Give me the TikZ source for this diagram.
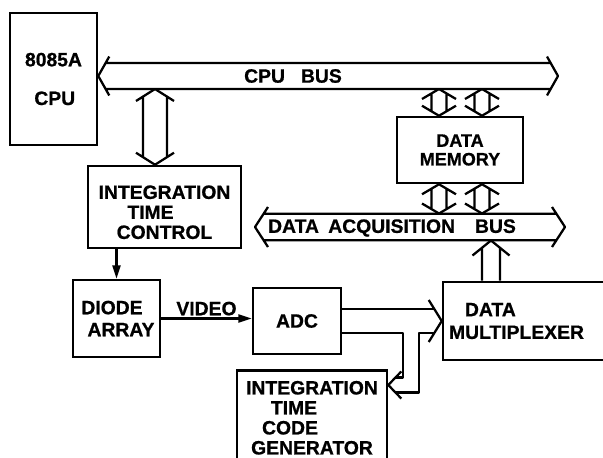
\documentclass[tikz,border=0pt]{standalone}
\usepackage{fontspec}
\setmainfont{Liberation Sans}[BoldFeatures={FakeBold=0.8}]
\usepackage{tikz}
\usetikzlibrary{arrows.meta, positioning, calc}

\begin{document}
\begin{tikzpicture}[
    x=0.75pt, y=-0.75pt,
    every node/.style={font=\fontsize{14.5}{15}\selectfont\bfseries},
    block/.style={rectangle, draw, line width=1.9pt, align=center, inner sep=0pt},
    sig/.style={-{Triangle[length=10pt,width=6pt]}, line width=1.6pt},
    wire/.style={line width=1.7pt, line join=round},
    % hollow bus arrows: shaft half width / head half width / head length (pt)
    dhbus/.style args={#1/#2/#3}{wire, to path={
      let \p1=(\tikztostart), \p2=(\tikztotarget), \n1={#3*#1/#2} in
      (\x1+#3pt,\y1+#2pt) -- (\x1,\y1) -- (\x1+#3pt,\y1-#2pt)
      (\x1+\n1*1pt,\y1+#1pt) -- (\x2-\n1*1pt,\y1+#1pt)
      (\x1+\n1*1pt,\y1-#1pt) -- (\x2-\n1*1pt,\y1-#1pt)
      (\x2-#3pt,\y1+#2pt) -- (\x2,\y1) -- (\x2-#3pt,\y1-#2pt)
    }},
    dvbus/.style args={#1/#2/#3}{wire, to path={
      let \p1=(\tikztostart), \p2=(\tikztotarget), \n1={#3*#1/#2} in
      (\x1-#2pt,\y1+#3pt) -- (\x1,\y1) -- (\x1+#2pt,\y1+#3pt)
      (\x1-#1pt,\y1+\n1*1pt) -- (\x1-#1pt,\y2-\n1*1pt)
      (\x1+#1pt,\y1+\n1*1pt) -- (\x1+#1pt,\y2-\n1*1pt)
      (\x1-#2pt,\y2-#3pt) -- (\x1,\y2) -- (\x1+#2pt,\y2-#3pt)
    }},
    uvbus/.style args={#1/#2/#3}{wire, to path={
      let \p1=(\tikztostart), \p2=(\tikztotarget), \n1={#3*#1/#2} in
      (\x1-#1pt,\y1) -- (\x1-#1pt,\y2-\n1*1pt)
      (\x1+#1pt,\y1) -- (\x1+#1pt,\y2-\n1*1pt)
      (\x1-#2pt,\y2-#3pt) -- (\x1,\y2) -- (\x1+#2pt,\y2-#3pt)
    }}
]
\useasboundingbox (0,0) rectangle (603,457);
\clip (0,0) rectangle (603,457);

\node[block, minimum width=65.25pt, minimum height=99pt, align=left] (cpu) at (53.5,79) {8085A\\[14pt]\hspace*{7pt}CPU};
\node[block, minimum width=114.75pt, minimum height=61.5pt] (itc) at (164.5,207) {\rule{0pt}{18pt}INTEGRATION\\\hspace*{-21pt}TIME\\CONTROL};
\node[block, minimum width=94.5pt, minimum height=49.5pt, font=\fontsize{13.5}{14}\selectfont\bfseries] (mem) at (460,150) {DATA\\MEMORY};
\node[block, minimum width=65.25pt, minimum height=57.75pt] (diode) at (116.5,318.5) {\hspace*{-6.75pt}DIODE\\[1.5pt]\hspace*{6.75pt}ARRAY};
\node[block, minimum width=66pt, minimum height=49.5pt] (adc) at (297,321) {ADC};
\node[block, minimum width=136.5pt, minimum height=58.5pt, text width=127.5pt, align=left] (mux) at (534,321) {\hspace*{12pt}DATA\\[2pt]MULTIPLEXER};
\node[block, anchor=north, minimum width=112.5pt, inner ysep=8pt, text depth=40pt] (gen) at (312,369) {INTEGRATION\\\hspace*{-27pt}TIME\\\hspace*{-33pt}CODE\\GENERATOR};

% buses
\coordinate (cpubusR) at (558,76);
\coordinate (daqL) at (255,227);
\coordinate (daqR) at (565,227);
\draw[dhbus=9.75/14.6/8.25] (cpu.east |- cpubusR) to (cpubusR);
\node (cpubuslbl) at (293,76) {CPU\hspace{12pt}BUS};
\draw[dhbus=10/15/9.75] (daqL) to (daqR);
\node (daqlbl) at (392,228) {DATA\hspace{7pt}ACQUISITION\hspace{15pt}BUS};

\draw[dvbus=9/14.25/9] ($(itc.north)+(-9.5,0)$) to ($(itc.north |- cpubusR)+(-9.5,13)$);
\foreach \dx in {-21,22} {
  \draw[dvbus=5.6/12.75/7.5] ($(mem.north)+(\dx,0)$) to ($(mem.north |- cpubusR)+(\dx,13)$);
  \draw[dvbus=5.6/12.75/7.5] ($(mem.south |- daqL)+(\dx,-13.5)$) to ($(mem.south)+(\dx,0)$);
}
\draw[uvbus=6.75/13.9/11.25] ($(mux.north)+(-43,0)$) to ($(mux.north |- daqL)+(-43,13.5)$);

% signal lines
\draw[sig] (diode.north |- itc.south) -- (diode.north);
\draw[sig] (diode.east) -- (diode.east -| adc.west) node[midway, above, inner sep=1.5pt] (video) {VIDEO};

% adc / code generator / multiplexer
\coordinate (gtip) at ($(gen.north east)+(0,16)$);
\draw[wire] ($(mux.west)+(-13,-21)$) -- (mux.west) -- ($(mux.west)+(-13,21)$);
\draw[wire] ($(gtip)+(13,-13.5)$) -- (gtip) -- ($(gtip)+(13,13.5)$);
\draw[wire] ($(adc.east)+(0,-12)$) -- ($(mux.west)+(-7.4,-12)$);
\draw[wire] ($(adc.east)+(0,12)$) -| ($(gtip)+(15,-7.5)$) -- ($(gtip)+(7.2,-7.5)$);
\draw[wire] ($(gtip)+(7.2,7.5)$) -- ($(gtip)+(31,7.5)$) |- ($(mux.west)+(-7.4,12)$);

\end{tikzpicture}
\end{document}
